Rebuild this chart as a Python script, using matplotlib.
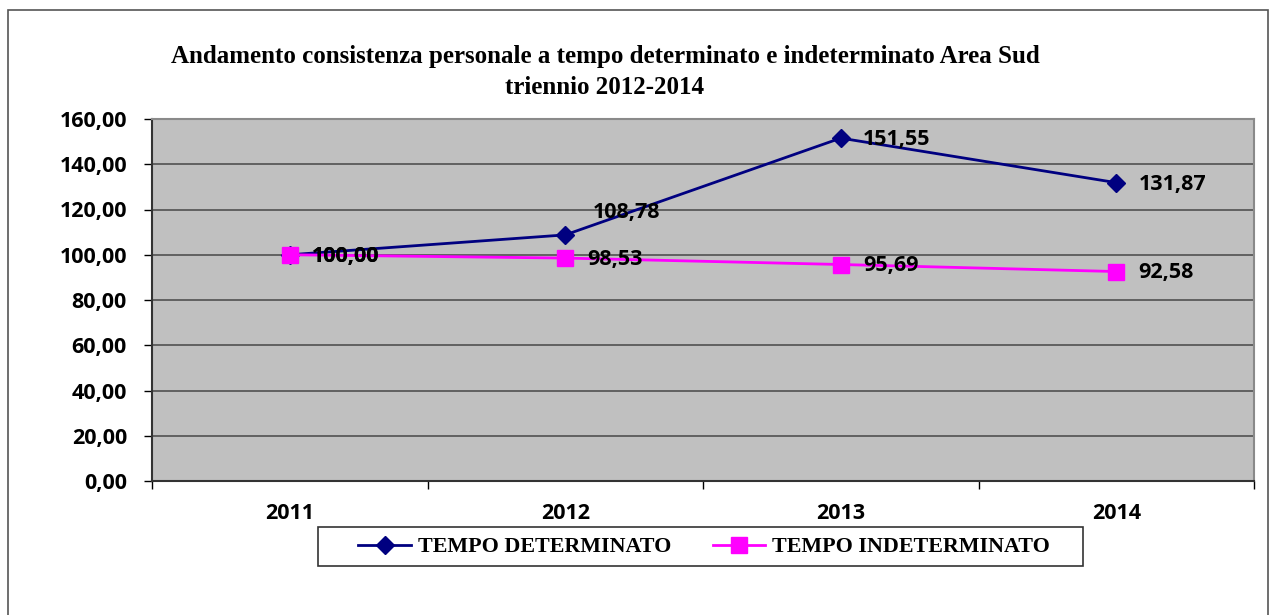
import matplotlib.pyplot as plt
from matplotlib.patches import Rectangle

years = ['2011', '2012', '2013', '2014']
determinato = [100.00, 108.78, 151.55, 131.87]
indeterminato = [100.00, 98.53, 95.69, 92.58]
labels_det = ['100,00', '108,78', '151,55', '131,87']
labels_ind = ['100,00', '98,53', '95,69', '92,58']

W, H = 1273, 615
fig = plt.figure(figsize=(W / 100, H / 100), dpi=100)

# outer chart border
fig.patches.append(Rectangle((8 / W, -0.05), 1260 / W, (H - 10) / H + 0.05,
                             transform=fig.transFigure, fill=False,
                             edgecolor='#555555', linewidth=1.2))

ax = fig.add_axes([152 / W, (H - 481) / H, 1102 / W, 362 / H])
ax.set_facecolor('#C0C0C0')

x = range(len(years))
ax.plot(x, determinato, color='#000080', linewidth=2, marker='D', markersize=9,
        label='TEMPO DETERMINATO', zorder=3)
ax.plot(x, indeterminato, color='#FF00FF', linewidth=2, marker='s', markersize=11,
        label='TEMPO INDETERMINATO', zorder=3)

lab_font = dict(family='Open Sans', fontweight='bold', fontsize=15.5)
for i, v in enumerate(determinato):
    if i == 1:
        ax.annotate(labels_det[i], (i, v), xytext=(20, 16), textcoords='offset points',
                    ha='left', va='center', **lab_font, zorder=4)
    else:
        ax.annotate(labels_det[i], (i, v), xytext=(16, -1), textcoords='offset points',
                    ha='left', va='center', **lab_font, zorder=4)
for i, v in enumerate(indeterminato):
    ax.annotate(labels_ind[i], (i, v), xytext=(16, -1), textcoords='offset points',
                ha='left', va='center', **lab_font, zorder=4)

ax.set_xlim(-0.5, 3.5)
ax.set_ylim(0, 160)
ax.set_yticks(range(0, 161, 20))
ax.set_yticklabels([f'{v},00' for v in range(0, 161, 20)], **lab_font)
ax.yaxis.grid(True, color='#5a5a5a', linewidth=1.3)
ax.set_axisbelow(True)

ax.set_xticks([-0.5, 0.5, 1.5, 2.5, 3.5])
ax.set_xticklabels([])
ax.set_xticks(list(x), minor=True)
ax.set_xticklabels(years, minor=True, **lab_font)
ax.tick_params(axis='x', which='minor', length=0, pad=16)
ax.tick_params(axis='x', which='major', length=6, direction='out', width=1)
ax.tick_params(axis='y', length=6, direction='out', width=1, pad=12)

for s in ['top', 'right']:
    ax.spines[s].set_color('#8a8a8a')
    ax.spines[s].set_linewidth(1.5)
for s in ['left', 'bottom']:
    ax.spines[s].set_color('#333333')
    ax.spines[s].set_linewidth(1.5)

title_font = dict(family='Liberation Serif', fontweight='bold', fontsize=18)
fig.text(605 / W, 1 - 57 / H, 'Andamento consistenza personale a tempo determinato e indeterminato Area Sud',
         ha='center', va='center', **title_font)
fig.text(605 / W, 1 - 88 / H, 'triennio 2012-2014', ha='center', va='center', **title_font)

# legend box drawn separately so its size matches the original
fig.patches.append(Rectangle((318 / W, 1 - 566 / H), 765 / W, 39 / H,
                             transform=fig.transFigure, fill=True, facecolor='white',
                             edgecolor='#333333', linewidth=1.2, zorder=2))
leg = fig.legend(loc='center', bbox_to_anchor=(704 / W, 1 - 547 / H), ncol=2,
                 prop=dict(family='Liberation Serif', weight='bold', size=15.8),
                 frameon=False, handlelength=2.4, handletextpad=0.3,
                 columnspacing=1.9)
leg.set_zorder(3)

fig.savefig('out.png', dpi=100)
